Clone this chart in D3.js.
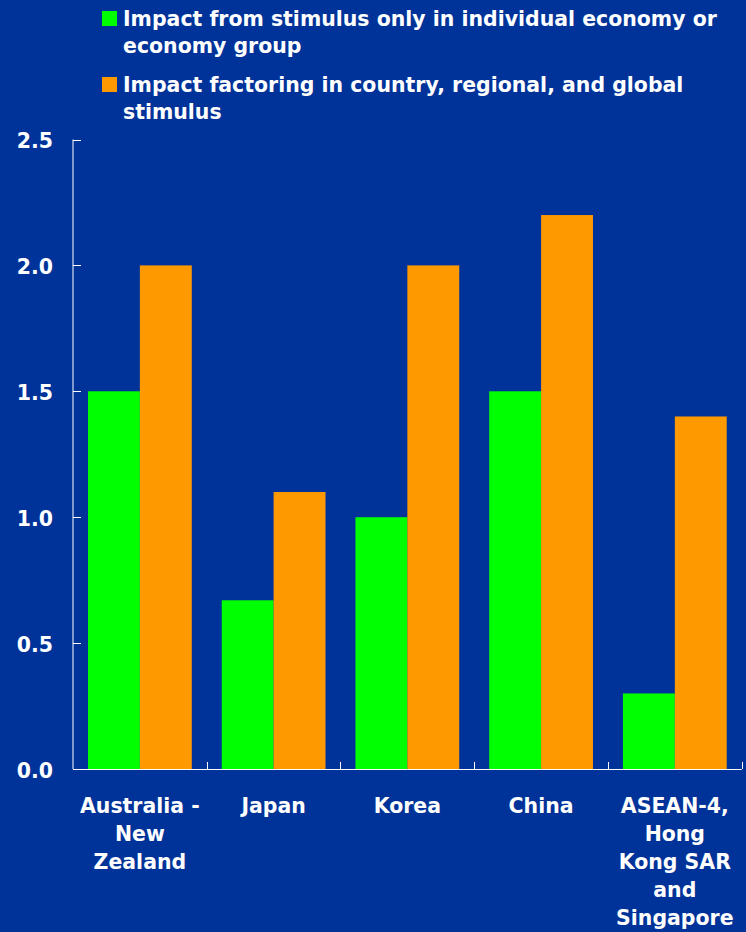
<!DOCTYPE html>
<html>
<head>
<meta charset="utf-8">
<script src="https://cdn.jsdelivr.net/npm/d3@7"></script>
<style>
  html, body { margin: 0; padding: 0; background: #003399; }
  svg { display: block; }
  text { font-family: "DejaVu Sans", Verdana, sans-serif; font-weight: bold; fill: #ffffff; }
</style>
</head>
<body>
<svg id="chart" width="746" height="932"></svg>
<script>
// Economy groups (line breaks mark label wrapping)
const categories = [
  "Australia -\nNew\nZealand",
  "Japan",
  "Korea",
  "China",
  "ASEAN-4,\nHong\nKong SAR\nand\nSingapore"
];
// Series names
const seriesNames = [
  "Impact from stimulus only in individual economy or\neconomy group",
  "Impact factoring in country, regional, and global\nstimulus"
];
// Series values
const ownStimulus = [1.5, 0.67, 1.0, 1.5, 0.3];
const combinedStimulus = [2.0, 1.1, 2.0, 2.2, 1.4];
const seriesColors = ["#00ff00", "#ff9900"];
// Value axis ticks
const yTicks = [0.0, 0.5, 1.0, 1.5, 2.0, 2.5];

const svg = d3.select("#chart");
const W = 746, H = 932;
const plot = { left: 73, right: 741.7, top: 139.5, bottom: 769 };
const FONT = 22;

svg.append("rect").attr("width", W).attr("height", H).attr("fill", "#003399");

const x0 = d3.scaleBand()
  .domain(categories)
  .range([plot.left, plot.right])
  .paddingInner(0.224)
  .paddingOuter(0.112);
const x1 = d3.scaleBand()
  .domain([0, 1])
  .range([0, x0.bandwidth()]);
const y = d3.scaleLinear().domain([0, 2.5]).range([plot.bottom, plot.top]);

const series = [ownStimulus, combinedStimulus];

// Bars
const groups = svg.append("g").selectAll("g")
  .data(categories)
  .join("g")
  .attr("transform", d => `translate(${x0(d)},0)`);
groups.selectAll("rect")
  .data((d, i) => series.map((s, k) => ({ k, v: s[i] })))
  .join("rect")
  .attr("x", d => x1(d.k))
  .attr("width", x1.bandwidth())
  .attr("y", d => y(d.v))
  .attr("height", d => y(0) - y(d.v))
  .attr("fill", d => seriesColors[d.k]);

// Y axis
const yAxis = svg.append("g");
yAxis.append("line")
  .attr("x1", plot.left).attr("x2", plot.left)
  .attr("y1", y(2.5)).attr("y2", y(0))
  .attr("stroke", "#ffffff").attr("stroke-width", 1);
yAxis.selectAll("line.tick")
  .data(yTicks)
  .join("line")
  .attr("class", "tick")
  .attr("x1", plot.left).attr("x2", plot.left + 8)
  .attr("y1", d => Math.round(y(d)) + 0.5).attr("y2", d => Math.round(y(d)) + 0.5)
  .attr("stroke", "#ffffff").attr("stroke-width", 1);
yAxis.selectAll("text")
  .data(yTicks)
  .join("text")
  .attr("x", 53)
  .attr("y", d => y(d) + 8.8)
  .attr("text-anchor", "end")
  .attr("font-size", FONT)
  .text(d => d3.format(".1f")(d));

// X axis
const xAxis = svg.append("g");
xAxis.append("line")
  .attr("x1", plot.left).attr("x2", plot.right)
  .attr("y1", plot.bottom + 0.5).attr("y2", plot.bottom + 0.5)
  .attr("stroke", "#ffffff").attr("stroke-width", 1);
const boundaries = categories.map(c => x0(c) - x0.paddingOuter() * x0.step() + x0.step());
xAxis.selectAll("line.tick")
  .data(boundaries)
  .join("line")
  .attr("class", "tick")
  .attr("x1", d => Math.round(d) + 0.5).attr("x2", d => Math.round(d) + 0.5)
  .attr("y1", plot.bottom - 7).attr("y2", plot.bottom)
  .attr("stroke", "#ffffff").attr("stroke-width", 1);
xAxis.selectAll("text")
  .data(categories)
  .join("text")
  .attr("text-anchor", "middle")
  .attr("font-size", FONT)
  .each(function (d) {
    const cx = x0(d) + x0.bandwidth() / 2;
    d.split("\n").forEach((line, i) => {
      d3.select(this).append("tspan")
        .attr("x", cx)
        .attr("y", 812.5 + i * 28)
        .text(line);
    });
  });

// Legend
const legend = svg.append("g");
const legendRows = [11, 77];
seriesNames.forEach((name, k) => {
  legend.append("rect")
    .attr("x", 102).attr("y", legendRows[k])
    .attr("width", 15).attr("height", 15)
    .attr("fill", seriesColors[k]);
  const t = legend.append("text").attr("font-size", FONT);
  name.split("\n").forEach((line, i) => {
    t.append("tspan")
      .attr("x", 123)
      .attr("y", legendRows[k] + 15 + i * 27)
      .text(line);
  });
});

// Slightly condensed bold face for all labels
svg.selectAll("text").each(function () {
  const el = d3.select(this);
  const spans = el.selectAll("tspan");
  const targets = spans.size() ? spans.nodes() : [this];
  targets.forEach(node => {
    const len = node.getComputedTextLength();
    d3.select(node)
      .attr("textLength", len * 0.93)
      .attr("lengthAdjust", "spacingAndGlyphs");
  });
});
</script>
</body>
</html>
